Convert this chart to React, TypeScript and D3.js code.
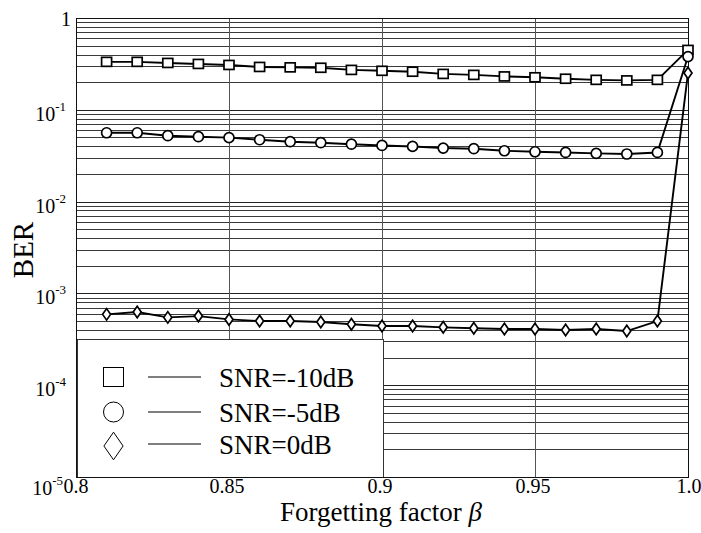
import React from "react";
import * as d3 from "d3";

const beta = [0.81, 0.82, 0.83, 0.84, 0.85, 0.86, 0.87, 0.88, 0.89, 0.9, 0.91, 0.92, 0.93, 0.94, 0.95, 0.96, 0.97, 0.98, 0.99, 1.0];
const berM10 = [0.333, 0.333, 0.324, 0.316, 0.308, 0.293, 0.29, 0.287, 0.272, 0.266, 0.26, 0.246, 0.24, 0.231, 0.226, 0.218, 0.212, 0.209, 0.212, 0.449];
const berM5 = [0.0562, 0.0562, 0.0522, 0.0509, 0.0497, 0.0472, 0.0449, 0.0438, 0.0422, 0.0409, 0.0399, 0.0383, 0.0377, 0.0358, 0.0349, 0.0343, 0.0335, 0.033, 0.0343, 0.38];
const ber0 = [0.000591, 0.000626, 0.000548, 0.000566, 0.000521, 0.0005, 0.0005, 0.000488, 0.000461, 0.000441, 0.000441, 0.000427, 0.000417, 0.000409, 0.000409, 0.000399, 0.000409, 0.000389, 0.0005, 0.252];

const xTicks = [0.8, 0.85, 0.9, 0.95, 1.0];
const xTickLabels = ["0.8", "0.85", "0.9", "0.95", "1.0"];
const yDecades = [1, 1e-1, 1e-2, 1e-3, 1e-4, 1e-5];
const yExponents = ["", "-1", "-2", "-3", "-4", "-5"];
const seriesNames = ["SNR=-10dB", "SNR=-5dB", "SNR=0dB"];
const seriesMarkers = ["square", "circle", "diamond"];

const W = 701;
const H = 533;
const left = 76;
const right = 688;
const top = 18;
const bottom = 477;
const FONT = "'Liberation Serif', 'Times New Roman', serif";

export default function App() {
  const x = d3.scaleLinear().domain([0.8, 1.0]).range([left, right]);
  const y = d3.scaleLog().domain([1e-5, 1]).range([bottom, top]);
  const line = d3
    .line<[number, number]>()
    .x((d) => x(d[0]))
    .y((d) => y(d[1]));

  const minor: number[] = [];
  for (let e = -5; e < 0; e++) {
    for (let k = 2; k <= 9; k++) minor.push(k * Math.pow(10, e));
  }

  const series = [berM10, berM5, ber0];

  const marker = (type: string, cx: number, cy: number, s: number, key: string, sw = 1.5) => {
    if (type === "square")
      return <rect key={key} x={cx - s / 2} y={cy - s / 2 + 0.5} width={s} height={s - 1} fill="#fff" stroke="#000" strokeWidth={sw} />;
    if (type === "circle") return <circle key={key} cx={cx} cy={cy} r={s / 2} fill="#fff" stroke="#000" strokeWidth={sw} />;
    const w = s * 0.8;
    const h = s * 1.15;
    return (
      <path
        key={key}
        d={`M${cx},${cy - h / 2}L${cx + w / 2},${cy}L${cx},${cy + h / 2}L${cx - w / 2},${cy}Z`}
        fill="#fff"
        stroke="#000"
        strokeWidth={sw}
      />
    );
  };

  const legX0 = x(0.8) + 1;
  const legX1 = x(0.9) + 1;
  const legY0 = 339;
  const legRows = [377, 412, 444];
  const legBase = [387, 422, 454];

  return (
    <svg width={W} height={H} style={{ position: "absolute", left: 0, top: 0, background: "#fff" }} fontFamily={FONT}>
      <rect x={0} y={0} width={W} height={H} fill="#fff" />
      {/* horizontal grid */}
      <g shapeRendering="crispEdges">
        {minor.map((v, i) => (
          <line key={"m" + i} x1={left} x2={right} y1={Math.round(y(v)) + 0.5} y2={Math.round(y(v)) + 0.5} stroke="#3a3a3a" strokeWidth={1} />
        ))}
        {yDecades.map((v, i) => (
          <line key={"d" + i} x1={left} x2={right} y1={Math.round(y(v)) + 0.5} y2={Math.round(y(v)) + 0.5} stroke="#222" strokeWidth={1} />
        ))}
        {/* vertical grid */}
        {xTicks.slice(1, 4).map((v, i) => (
          <line key={"v" + i} x1={Math.round(x(v)) + 0.5} x2={Math.round(x(v)) + 0.5} y1={top} y2={bottom} stroke="#555" strokeWidth={1} />
        ))}
        {/* legend */}
        <rect x={legX0} y={legY0} width={legX1 - legX0} height={bottom - legY0} fill="#fff" stroke="#333" strokeWidth={1} />
        {/* plot frame */}
        <rect x={left} y={top} width={right - left} height={bottom - top} fill="none" stroke="#111" strokeWidth={1} />
      </g>
      {seriesNames.map((name, i) => (
        <g key={"leg" + i}>
          {marker(seriesMarkers[i], 113.5, legRows[i] + (i === 2 ? 2 : 0), i === 2 ? 24 : 20, "lm" + i, 1)}
          <line x1={148} x2={201} y1={legRows[i]} y2={legRows[i]} stroke="#000" strokeWidth={1.1} />
          <text x={219} y={legBase[i]} fontSize={27} fill="#000">
            {name}
          </text>
        </g>
      ))}
      {/* series */}
      {series.map((vals, si) => (
        <g key={"s" + si}>
          <path
            d={line(beta.map((b, j) => [b, vals[j]] as [number, number])) || ""}
            fill="none"
            stroke="#000"
            strokeWidth={1.9}
          />
          {beta.map((b, j) => marker(seriesMarkers[si], x(b), y(vals[j]), 10, `p${si}-${j}`, 1.7))}
        </g>
      ))}
      {/* y tick labels */}
      {yDecades.map((v, i) => {
        const gy = y(v);
        if (i === 0)
          return (
            <text key={"yl" + i} x={71} y={gy + 8} fontSize={20} textAnchor="end" fill="#000">
              1
            </text>
          );
        const off = i === 5 ? 18 : 11;
        return (
          <text key={"yl" + i} x={i === 5 ? 63 : 66} y={gy + off} fontSize={20} textAnchor="end" fill="#000">
            10
            <tspan fontSize={13} dy={-10}>
              {yExponents[i]}
            </tspan>
          </text>
        );
      })}
      {/* x tick labels */}
      {xTicks.map((v, i) => (
        <text key={"xl" + i} x={x(v) - (i === 4 ? -1 : 2) + (i === 0 ? 2 : 0)} y={493} fontSize={20} textAnchor="middle" fill="#000">
          {xTickLabels[i]}
        </text>
      ))}
      {/* axis titles */}
      <text x={381} y={521} fontSize={27} textAnchor="middle" fill="#000">
        Forgetting factor <tspan fontStyle="italic">β</tspan>
      </text>
      <text transform={`translate(33,250) rotate(-90)`} fontSize={29} textAnchor="middle" fill="#000">
        BER
      </text>
    </svg>
  );
}
